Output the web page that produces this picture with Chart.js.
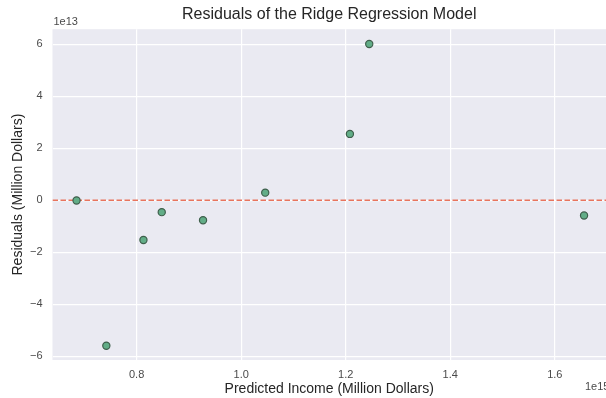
<!DOCTYPE html>
<html>
<head>
<meta charset="utf-8">
<script src="https://cdn.jsdelivr.net/npm/chart.js@4/dist/chart.umd.min.js"></script>
<style>
  body { margin: 0; background: #ffffff; }
  canvas { display: block; }
</style>
</head>
<body>
<canvas id="residChart" width="606" height="398"></canvas>
<script>
// predicted income, in units of 1e15
var predicted = [0.685, 0.742, 0.813, 0.848, 0.927, 1.046, 1.208, 1.245, 1.656];
// residuals, in units of 1e13
var residuals = [-0.01, -5.60, -1.53, -0.46, -0.77, 0.29, 2.55, 6.01, -0.59];

var xTicks = [0.8, 1.0, 1.2, 1.4, 1.6];
var yTicks = [-6, -4, -2, 0, 2, 4, 6];
var xMin = 0.639, xMax = 1.698;
var yMin = -6.15, yMax = 6.58;

var font = "'Liberation Sans', Arial, sans-serif";
var tickColor = '#4a4a4a';

var points = predicted.map(function(x, i) {
    return { x: x, y: residuals[i] };
});

// plot background and the offset (exponent) labels
var decor = {
    id: 'decor',
    beforeDraw: function(chart) {
        var a = chart.chartArea, ctx = chart.ctx;
        ctx.save();
        ctx.fillStyle = '#eaeaf2';
        ctx.fillRect(a.left, a.top, a.right - a.left, a.bottom - a.top);
        ctx.restore();
    },
    afterDraw: function(chart) {
        var a = chart.chartArea, ctx = chart.ctx;
        ctx.save();
        ctx.font = '11px ' + font;
        ctx.fillStyle = tickColor;
        ctx.textAlign = 'left';
        ctx.textBaseline = 'middle';
        ctx.fillText('1e13', a.left + 1, 22);
        ctx.fillText('1e15', 585, 387);
        ctx.restore();
    }
};

new Chart(document.getElementById('residChart'), {
    data: {
        datasets: [
            {
                type: 'line',
                label: 'zero',
                data: [{ x: xMin, y: 0 }, { x: xMax, y: 0 }],
                borderColor: '#e8745e',
                borderWidth: 1.5,
                borderDash: [5.5, 2.5],
                pointRadius: 0,
                fill: false,
                order: 2
            },
            {
                type: 'scatter',
                label: 'Residuals',
                data: points,
                backgroundColor: '#62ad87',
                borderColor: '#3f5f4c',
                borderWidth: 1.2,
                pointRadius: 3.6,
                order: 1
            }
        ]
    },
    options: {
        responsive: false,
        devicePixelRatio: 1,
        animation: false,
        layout: { autoPadding: false, padding: 0 },
        plugins: {
            legend: { display: false },
            tooltip: { enabled: false },
            title: {
                display: true,
                fullSize: false,
                text: 'Residuals of the Ridge Regression Model',
                color: '#262626',
                font: { family: font, size: 16, weight: 'normal' },
                padding: { top: 5, bottom: 5 }
            }
        },
        scales: {
            x: {
                type: 'linear',
                min: xMin,
                max: xMax,
                afterFit: function(s) { s.height = 38; },
                afterBuildTicks: function(s) {
                    s.ticks = xTicks.map(function(v) { return { value: v }; });
                },
                border: { display: false },
                grid: { color: '#ffffff', lineWidth: 1.2, drawTicks: false },
                ticks: {
                    color: tickColor,
                    padding: 8,
                    maxRotation: 0,
                    font: { family: font, size: 11 },
                    callback: function(v) { return v.toFixed(1); }
                },
                title: {
                    display: true,
                    text: 'Predicted Income (Million Dollars)',
                    color: '#262626',
                    font: { family: font, size: 14 },
                    padding: { top: 0, bottom: 0 }
                }
            },
            y: {
                type: 'linear',
                min: yMin,
                max: yMax,
                afterFit: function(s) { s.width = 52.5; },
                afterBuildTicks: function(s) {
                    s.ticks = yTicks.map(function(v) { return { value: v }; });
                },
                border: { display: false },
                grid: { color: '#ffffff', lineWidth: 1.2, drawTicks: false },
                ticks: {
                    color: tickColor,
                    padding: 10,
                    font: { family: font, size: 11 },
                    callback: function(v) { return v < 0 ? '\u2212' + Math.abs(v) : String(v); }
                },
                title: {
                    display: true,
                    text: 'Residuals (Million Dollars)',
                    color: '#262626',
                    font: { family: font, size: 14 },
                    padding: { top: 10, bottom: 0 }
                }
            }
        }
    },
    plugins: [decor]
});
</script>
</body>
</html>
